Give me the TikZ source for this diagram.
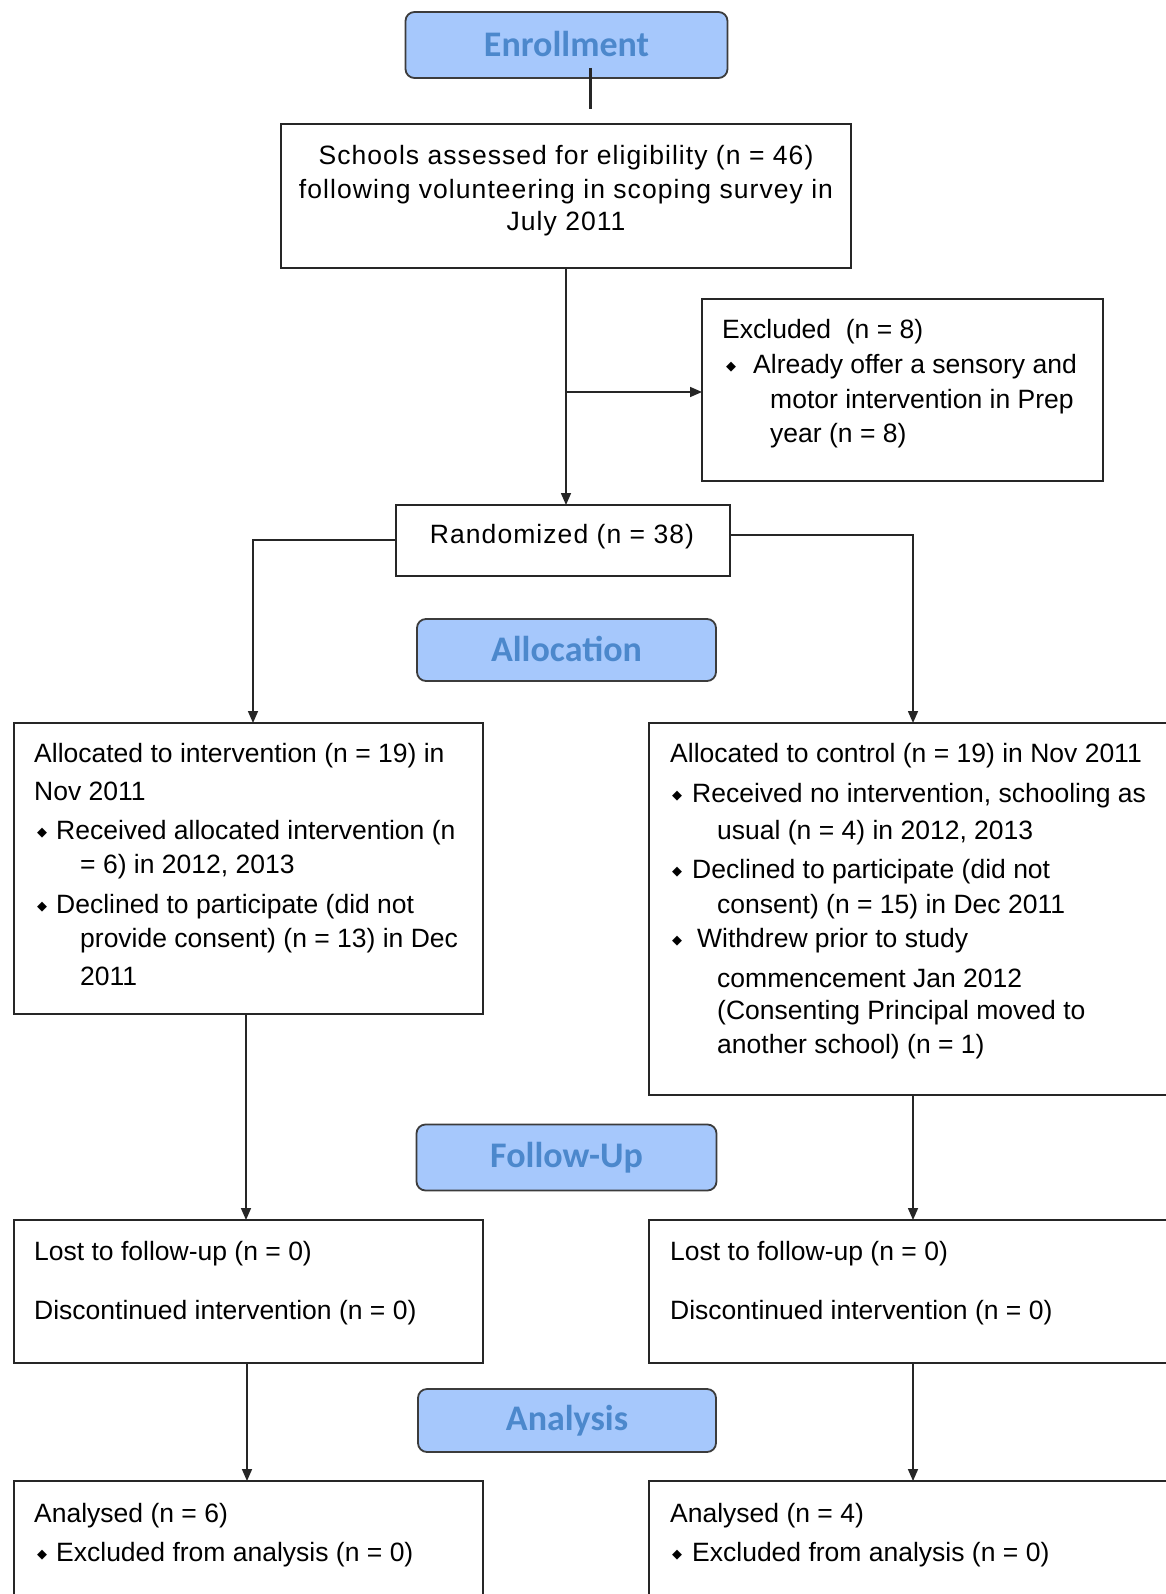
\documentclass[tikz,border=0pt]{standalone}
\usepackage{fontspec}
\setmainfont{Liberation Sans}
\newfontfamily\widefont{Liberation Sans}[LetterSpace=4]
\newfontfamily\titlefont{Carlito}
\newfontfamily\symfont{DejaVu Sans}
\usetikzlibrary{arrows.meta}
\definecolor{phasefill}{RGB}{166,200,252}
\definecolor{phasetext}{RGB}{76,136,204}
\definecolor{phaseline}{RGB}{60,60,60}
\tikzset{
  box/.style={draw=black!85, line width=1.6pt, rectangle, inner sep=0pt, outer sep=0pt, anchor=north west},
  phase/.style={draw=phaseline, fill=phasefill, line width=1.8pt, rounded corners=9pt, inner sep=0pt, outer sep=0pt,
    font=\titlefont\bfseries\fontsize{36}{40}\selectfont, text=phasetext},
  txt/.style={anchor=west, inner sep=0pt, font=\fontsize{26.5}{30}\selectfont},
  ctxt/.style={anchor=center, inner sep=0pt, font=\widefont\fontsize{26.5}{30}\selectfont},
  bul/.style={anchor=center, inner sep=0pt, font=\symfont\fontsize{13}{13}\selectfont},
  conn/.style={line width=1.6pt, draw=black!85},
  arr/.style={conn, -{Triangle[length=12pt,width=10pt]}}
}
\newcommand\myline[4]{\node[txt] (#1) at (#2,#3) {#4};}
\newcommand\mybul[3]{\node[bul] (#1) at (#2,#3) {◆};}
\begin{document}
\begin{tikzpicture}[x=1pt,y=-1pt]
\clip (0,0) rectangle (1166,1594);
\fill[white] (0,0) rectangle (1166,1594);

% phase boxes
\node[phase, minimum width=322pt, minimum height=66pt] (enroll) at (566.5,45) {\raisebox{3pt}{Enrollment}};
\node[phase, minimum width=299pt, minimum height=62pt] (alloc) at (566.5,650) {\raisebox{2pt}{Allocation}};
\node[phase, minimum width=300pt, minimum height=66pt] (follow) at (566.5,1157.5) {\raisebox{2pt}{Follow-Up}};
\node[phase, minimum width=298pt, minimum height=63pt] (anal) at (567,1420.5) {\raisebox{2pt}{Analysis}};

% boxes
\node[box, minimum width=570pt, minimum height=144pt] (schools) at (281,124) {};
\node[box, minimum width=401pt, minimum height=182pt] (excl) at (702,299) {};
\node[box, minimum width=334pt, minimum height=71pt] (rand) at (396,505) {};
\node[box, minimum width=469pt, minimum height=291pt] (allocL) at (14,723) {};
\node[box, minimum width=528pt, minimum height=372pt] (allocR) at (649,723) {};
\node[box, minimum width=469pt, minimum height=143pt] (lostL) at (14,1220) {};
\node[box, minimum width=528pt, minimum height=143pt] (lostR) at (649,1220) {};
\node[box, minimum width=469pt, minimum height=140pt] (anaL) at (14,1481) {};
\node[box, minimum width=528pt, minimum height=140pt] (anaR) at (649,1481) {};

% texts
\node[ctxt] (s1) at (566,158) {Schools assessed for eligibility (n = 46)};
\node[ctxt] (s2) at (566,192) {following volunteering in scoping survey in};
\node[ctxt] (s3) at (566,224) {July 2011};

\myline{x1}{722}{332}{Excluded\ \ (n = 8)}
\mybul{xb1}{731}{367}
\myline{x2}{753}{367}{Already offer a sensory and}
\myline{x3}{770}{402}{motor intervention in Prep}
\myline{x4}{770}{436}{year (n = 8)}

\node[ctxt] (r1) at (562,537) {Randomized (n = 38)};

\myline{l1}{34}{756}{Allocated to intervention (n = 19) in}
\myline{l2}{34}{791}{Nov 2011}
\mybul{lb1}{42}{833}
\myline{l3}{56}{833}{Received allocated intervention (n}
\myline{l4}{80}{867}{= 6) in 2012, 2013}
\mybul{lb2}{42}{907}
\myline{l5}{56}{907}{Declined to participate (did not}
\myline{l6}{80}{941}{provide consent) (n = 13) in Dec}
\myline{l7}{80}{976}{2011}

\myline{c1}{670}{756}{Allocated to control (n = 19) in Nov 2011}
\mybul{cb1}{677}{796}
\myline{c2}{692}{796}{Received no intervention, schooling as}
\myline{c3}{717}{833}{usual (n = 4) in 2012, 2013}
\mybul{cb2}{677}{872}
\myline{c4}{692}{872}{Declined to participate (did not}
\myline{c5}{717}{907}{consent) (n = 15) in Dec 2011}
\mybul{cb3}{677}{941}
\myline{c6}{697}{941}{Withdrew prior to study}
\myline{c7}{717}{978}{commencement Jan 2012}
\myline{c8}{717}{1013}{(Consenting Principal moved to}
\myline{c9}{717}{1047}{another school) (n = 1)}

\myline{fl1}{34}{1254}{Lost to follow-up (n = 0)}
\myline{fl2}{34}{1313}{Discontinued intervention (n = 0)}
\myline{fr1}{670}{1254}{Lost to follow-up (n = 0)}
\myline{fr2}{670}{1313}{Discontinued intervention (n = 0)}

\myline{al1}{34}{1516}{Analysed (n = 6)}
\mybul{alb}{42}{1555}
\myline{al2}{56}{1555}{Excluded from analysis (n = 0)}
\myline{ar1}{670}{1516}{Analysed (n = 4)}
\mybul{arb}{677}{1555}
\myline{ar2}{692}{1555}{Excluded from analysis (n = 0)}

% connectors
\coordinate (e1) at (590,68);
\coordinate (e2) at (590,109);
\draw[conn, line width=3pt] (e1) -- (e2);
\coordinate (sdown) at (566,268);
\draw[arr] (sdown) -- (sdown |- rand.north);
\draw[arr] (sdown |- 0,392) -- (excl.west |- 0,392);
\coordinate (lturn) at (253,540);
\draw[arr] (rand.west |- lturn) -- (lturn) -- (lturn |- allocL.north);
\coordinate (rturn) at (913,535);
\draw[arr] (rand.east |- rturn) -- (rturn) -- (rturn |- allocR.north);
\draw[arr] (allocL.south -| 246,0) -- (lostL.north -| 246,0);
\draw[arr] (allocR.south -| 913,0) -- (lostR.north -| 913,0);
\draw[arr] (lostL.south -| 247,0) -- (anaL.north -| 247,0);
\draw[arr] (lostR.south -| 913,0) -- (anaR.north -| 913,0);
\end{tikzpicture}
\end{document}
